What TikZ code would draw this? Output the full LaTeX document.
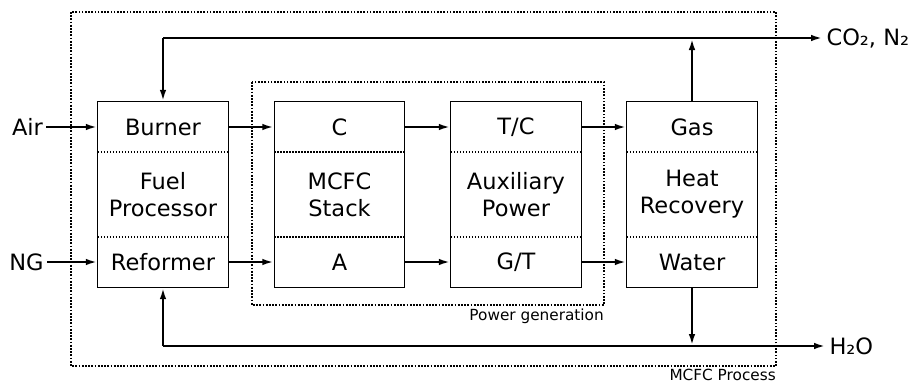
\documentclass[tikz,border=0pt]{standalone}
\usepackage{fontspec}
\setmainfont{DejaVu Sans}
\usetikzlibrary{arrows.meta}
\usetikzlibrary{positioning}

\begin{document}
\begin{tikzpicture}[
        x=1pt, y=-1pt,
        >={Latex[length=12pt, width=6.5pt]},
        font=\fontsize{22.5}{27}\selectfont,
        part/.style={rectangle, minimum width=130pt, minimum height=50pt, inner sep=0pt, align=center},
        core/.style={part, minimum height=85pt},
        unit/.style={draw, line width=1.2pt},
        divider/.style={draw, line width=1.6pt, dash pattern=on 1.6pt off 1.4pt},
        boundary/.style={draw, line width=1.7pt, dash pattern=on 1.7pt off 1.5pt},
        flow/.style={draw, line width=2.4pt, ->},
        tag/.style={font=\fontsize{15.3}{18}\selectfont, inner xsep=0pt}
    ]
    \useasboundingbox (0,0) rectangle (915,388);

    % --- 1. BOUNDARIES ---
    \draw[boundary] (71,12) rectangle (776,366);
    \draw[boundary] (252,82) rectangle (604,305);
    \node[tag, anchor=north east] (pglabel) at (604,305) {Power generation};
    \node[tag, anchor=north east] (proclabel) at (776,366) {MCFC Process};

    % --- 2. UNITS ---
    % Fuel processor
    \node[part] (burner) at (163,127) {Burner};
    \node[core] (fuelproc) at (163,194.5) {Fuel\\Processor};
    \node[part] (reformer) at (163,262) {Reformer};

    % MCFC stack
    \node[part] (cathode) at (339.5,127) {C};
    \node[core] (stack) at (339.5,194.5) {MCFC\\Stack};
    \node[part] (anode) at (339.5,262) {A};

    % Auxiliary power
    \node[part] (turbo) at (516,127) {T/C};
    \node[core] (auxpower) at (516,194.5) {Auxiliary\\Power};
    \node[part] (gasturb) at (516,262) {G/T};

    % Heat recovery
    \node[part] (gas) at (692,127) {Gas};
    \node[core] (heatrec) at (692,194.5) {Heat\\Recovery};
    \node[part] (water) at (692,262) {Water};

    \draw[unit] (burner.north west) rectangle (reformer.south east);
    \draw[unit] (cathode.north west) rectangle (anode.south east);
    \draw[unit] (turbo.north west) rectangle (gasturb.south east);
    \draw[unit] (gas.north west) rectangle (water.south east);

    \draw[divider] (burner.south west) -- (burner.south east);
    \draw[divider] (reformer.north west) -- (reformer.north east);
    \draw[divider] (cathode.south west) -- (cathode.south east);
    \draw[divider] (anode.north west) -- (anode.north east);
    \draw[divider] (turbo.south west) -- (turbo.south east);
    \draw[divider] (gasturb.north west) -- (gasturb.north east);
    \draw[divider] (gas.south west) -- (gas.south east);
    \draw[divider] (water.north west) -- (water.north east);

    % --- 3. STREAMS ---
    \node (air) at (27.5,127) {Air};
    \node (ng) at (26.5,262) {NG};
    \node[anchor=west] (exhaust) at (823,38) {CO₂, N₂};
    \node[anchor=west] (steam) at (826,346) {H₂O};
    \coordinate (topleft) at (163,38);
    \coordinate (botleft) at (163,346);

    \draw[flow] (air) -- (burner);
    \draw[flow] (ng) -- (reformer);

    \draw[flow] (burner) -- (cathode);
    \draw[flow] (reformer) -- (anode);
    \draw[flow] (cathode) -- (turbo);
    \draw[flow] (anode) -- (gasturb);
    \draw[flow] (turbo) -- (gas);
    \draw[flow] (gasturb) -- (water);

    % Recycle loops
    \draw[flow] (topleft) -- (burner.north);
    \draw[flow] (topleft) -- (exhaust);
    \draw[flow] (gas.north) -- (gas.north |- topleft);

    \draw[flow] (botleft) -- (reformer.south);
    \draw[flow] (botleft) -- (steam);
    \draw[flow] (water.south) -- (water.south |- botleft);

\end{tikzpicture}
\end{document}
